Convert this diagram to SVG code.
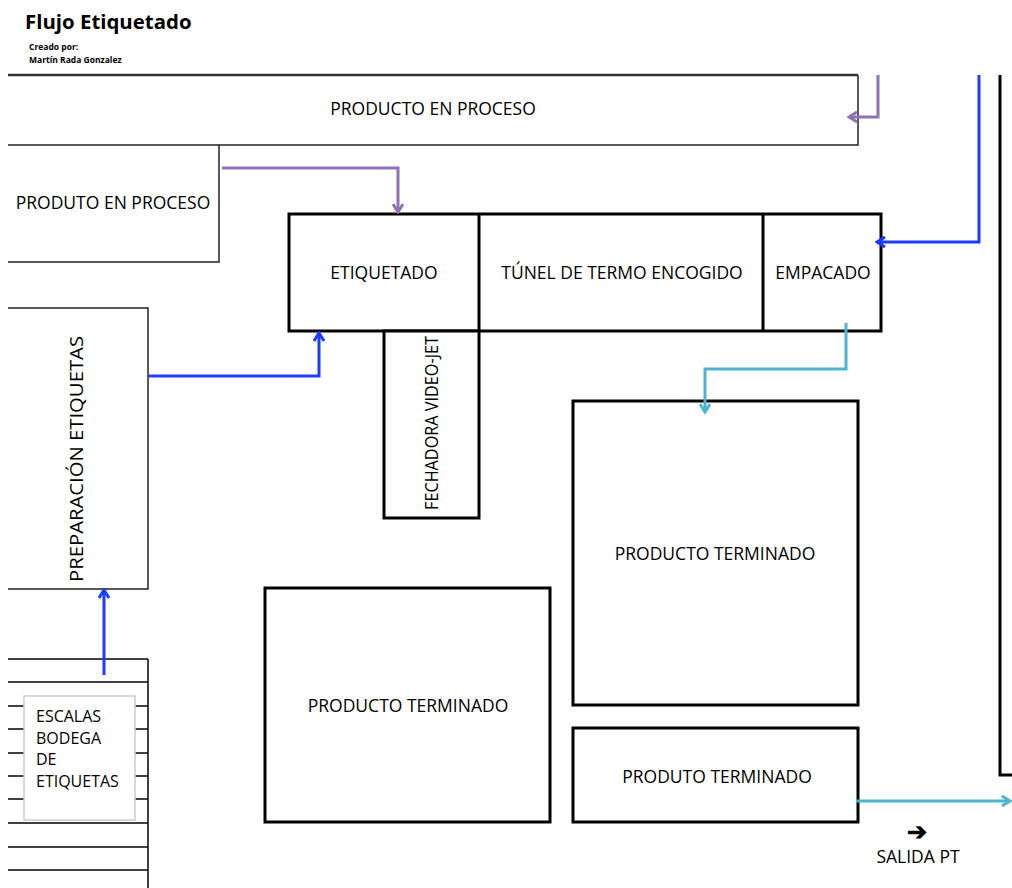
<svg xmlns="http://www.w3.org/2000/svg" width="1012" height="888" viewBox="0 0 1012 888">
<style>
text{font-family:"Open Sans","Noto Sans",sans-serif;fill:#000}
.lbl{font-size:17.5px;text-anchor:middle;dominant-baseline:central}
.thin{fill:none;stroke:#222;stroke-width:1.5}
.thick{fill:#fff;stroke:#000;stroke-width:3}
.purple{fill:none;stroke:#8f72b3;stroke-width:3}
.blue{fill:none;stroke:#1a3cff;stroke-width:3}
.cyan{fill:none;stroke:#4db4cf;stroke-width:3}
.shelf{stroke:#000;stroke-width:1.5}
</style>
<defs>
<marker id="ap" viewBox="0 0 12 12" refX="10" refY="6" markerWidth="12" markerHeight="12" markerUnits="userSpaceOnUse" orient="auto"><path d="M2,1 L10,6 L2,11" fill="none" stroke="#8f72b3" stroke-width="3"/></marker>
<marker id="ab" viewBox="0 0 12 12" refX="10" refY="6" markerWidth="12" markerHeight="12" markerUnits="userSpaceOnUse" orient="auto"><path d="M2,1 L10,6 L2,11" fill="none" stroke="#1a3cff" stroke-width="3"/></marker>
<marker id="ac" viewBox="0 0 12 12" refX="10" refY="6" markerWidth="12" markerHeight="12" markerUnits="userSpaceOnUse" orient="auto"><path d="M2,1 L10,6 L2,11" fill="none" stroke="#4db4cf" stroke-width="3"/></marker>
</defs>
<rect width="1012" height="888" fill="#fff"/>
<g id="title">
<text x="25" y="29" font-size="20.4" font-weight="bold">Flujo Etiquetado</text>
<text x="29" y="50" font-size="8.5" font-weight="bold">Creado por:</text>
<text x="29" y="63" font-size="8.5" font-weight="bold">Martín Rada Gonzalez</text>
</g>
<g id="producto-en-proceso">
<path class="thin" d="M8,145 H858 V75"/>
<line x1="8" y1="75" x2="858" y2="75" stroke="#333" stroke-width="2.5"/>
<text class="lbl" x="433" y="108">PRODUCTO EN PROCESO</text>
</g>
<g id="produto-en-proceso">
<path class="thin" d="M219,145 V262 H8"/>
<text class="lbl" x="113" y="202">PRODUTO EN PROCESO</text>
</g>
<g id="linea">
<rect class="thick" x="289" y="214" width="592" height="117"/>
<line x1="479" y1="214" x2="479" y2="331" stroke="#000" stroke-width="3"/>
<line x1="763" y1="214" x2="763" y2="331" stroke="#000" stroke-width="3"/>
<text class="lbl" x="384" y="272">ETIQUETADO</text>
<text class="lbl" x="622" y="272">TÚNEL DE TERMO ENCOGIDO</text>
<text class="lbl" x="823" y="272">EMPACADO</text>
</g>
<g id="fechadora">
<rect class="thick" x="384" y="331" width="95" height="187"/>
<text class="lbl" transform="translate(431,423) rotate(-90)" font-size="15" textLength="174" lengthAdjust="spacingAndGlyphs">FECHADORA VIDEO-JET</text>
</g>
<g id="preparacion">
<path class="thin" d="M8,308 H148 V589 H8"/>
<text class="lbl" transform="translate(76,459) rotate(-90)" font-size="23" textLength="246" lengthAdjust="spacingAndGlyphs">PREPARACIÓN ETIQUETAS</text>
</g>
<g id="bodega">
<line class="shelf" x1="148" y1="659" x2="148" y2="888"/>
<line class="shelf" x1="8" y1="659" x2="148" y2="659"/>
<line class="shelf" x1="8" y1="682" x2="148" y2="682"/>
<line class="shelf" x1="8" y1="706" x2="148" y2="706"/>
<line class="shelf" x1="8" y1="729" x2="148" y2="729"/>
<line class="shelf" x1="8" y1="753" x2="148" y2="753"/>
<line class="shelf" x1="8" y1="776" x2="148" y2="776"/>
<line class="shelf" x1="8" y1="799" x2="148" y2="799"/>
<line class="shelf" x1="8" y1="823" x2="148" y2="823"/>
<line class="shelf" x1="8" y1="847" x2="148" y2="847"/>
<line class="shelf" x1="8" y1="870" x2="148" y2="870"/>
<rect x="24" y="696" width="111" height="124" fill="#fff" stroke="#ccc" stroke-width="1.5"/>
<text x="36" y="722" font-size="16">ESCALAS</text>
<text x="36" y="744" font-size="16">BODEGA</text>
<text x="36" y="765" font-size="16">DE</text>
<text x="36" y="787" font-size="16">ETIQUETAS</text>
</g>
<g id="pt-1">
<rect class="thick" x="573" y="401" width="285" height="304"/>
<text class="lbl" x="715" y="553">PRODUCTO TERMINADO</text>
</g>
<g id="pt-2">
<rect class="thick" x="265" y="588" width="285" height="234"/>
<text class="lbl" x="408" y="705">PRODUCTO TERMINADO</text>
</g>
<g id="pt-3">
<rect class="thick" x="573" y="728" width="285" height="94"/>
<text class="lbl" x="717" y="776">PRODUTO TERMINADO</text>
</g>
<g id="muro">
<polyline points="1000,75 1000,775 1012,775" fill="none" stroke="#000" stroke-width="3"/>
</g>
<g id="salida">
<text x="917" y="840" font-size="24" font-weight="bold" text-anchor="middle">➔</text>
<text x="918" y="863" font-size="17.5" text-anchor="middle">SALIDA PT</text>
</g>
<g id="connectors">
<polyline class="purple" points="878,75 878,117 849,117" marker-end="url(#ap)"/>
<polyline class="purple" points="222,168 398,168 398,212" marker-end="url(#ap)"/>
<polyline class="blue" points="979,75 979,242 877,242" marker-end="url(#ab)"/>
<polyline class="blue" points="148,376 319,376 319,333" marker-end="url(#ab)"/>
<polyline class="blue" points="104,675 104,590" marker-end="url(#ab)"/>
<polyline class="cyan" points="846,323 846,369 705,369 705,412" marker-end="url(#ac)"/>
<polyline class="cyan" points="856,801 1010,801" marker-end="url(#ac)"/>
</g>
</svg>
